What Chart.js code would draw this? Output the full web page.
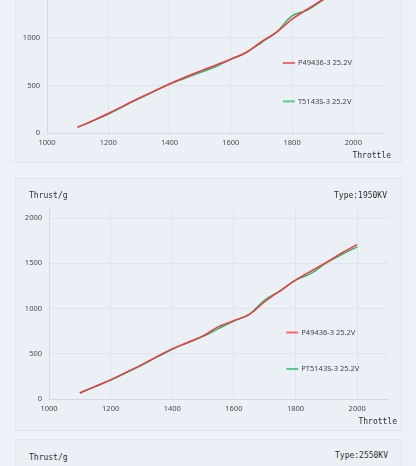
<!DOCTYPE html>
<html>
<head>
<meta charset="utf-8">
<script src="https://cdn.jsdelivr.net/npm/chart.js@4.4.1/dist/chart.umd.min.js"></script>
<style>
  html, body { margin: 0; padding: 0; }
  body { width: 416px; height: 466px; overflow: hidden; position: relative; background: #eef2f8; }
  .panel { position: absolute; left: 16px; width: 385px; background: #ebeff6; box-shadow: 0 0 0 1px #e1e6ee; }
  .panel canvas { position: absolute; left: 0; top: 0; }
  .hdr { position: absolute; font: 8px "DejaVu Sans Mono", monospace; color: #2f2f2f; line-height: 10px; }
</style>
</head>
<body>
<div class="panel" id="pA" style="top:-98px;height:260px;"><canvas id="chartA" width="385" height="260"></canvas></div>
<div class="panel" id="pB" style="top:179px;height:251px;"><canvas id="chartB" width="385" height="251"></canvas></div>
<div class="panel" id="pC" style="top:440px;height:251px;">
  <div class="hdr" style="left:13px;top:13px;">Thrust/g</div>
  <div class="hdr" style="right:13px;top:11px;">Type:2550KV</div>
</div>
<script>
// throttle steps shared by every curve
const throttle = [1100, 1150, 1200, 1250, 1300, 1350, 1400, 1450, 1500, 1550,
                  1600, 1650, 1700, 1750, 1800, 1850, 1900, 1950, 2000];
const xTicks = [1000, 1200, 1400, 1600, 1800, 2000];
const yTicks = [0, 500, 1000, 1500, 2000];

// upper panel (cut off at the top)
const upperRed   = [60, 130, 205, 285, 365, 440, 515, 585, 650, 712, 775, 845, 960, 1060, 1195, 1300, 1400, 1500, 1600];
const upperGreen = [60, 128, 200, 280, 362, 438, 515, 575, 635, 695, 775, 845, 950, 1062, 1230, 1290, 1395, 1495, 1590];

// 1950KV panel
const midRed   = [66, 140, 212, 295, 378, 468, 554, 625, 697, 800, 866, 936, 1075, 1196, 1314, 1413, 1509, 1615, 1707];
const midGreen = [66, 138, 208, 290, 372, 462, 550, 622, 692, 778, 862, 936, 1094, 1196, 1314, 1388, 1505, 1597, 1681];

const RED = '#ee3a43', GREEN = '#32b265';

const panelText = {
  id: 'panelText',
  afterDraw(chart, args, opts) {
    const { ctx, chartArea: a } = chart;
    ctx.save();
    // axis name and header
    ctx.fillStyle = '#2f2f2f';
    ctx.font = '8px "DejaVu Sans Mono", monospace';
    ctx.textBaseline = 'middle';
    ctx.textAlign = 'right';
    ctx.fillText('Throttle', a.right + opts.xTitleDx, a.bottom + 23);
    if (opts.type) {
      ctx.fillText(opts.type, a.right - 1, 17);
      ctx.textAlign = 'left';
      ctx.fillText('Thrust/g', 13, 17);
    }
    // legend inside the plot
    const lx = a.left + a.width * 0.70;
    const rows = [0.35, 0.158];
    ctx.font = '7.5px "Noto Sans", sans-serif';
    ctx.textAlign = 'left';
    chart.data.datasets.forEach((ds, i) => {
      const ly = a.bottom - a.height * rows[i];
      ctx.strokeStyle = ds.legendColor;
      ctx.lineWidth = 2;
      ctx.beginPath();
      ctx.moveTo(lx, ly);
      ctx.lineTo(lx + 12, ly);
      ctx.stroke();
      ctx.fillStyle = '#444';
      ctx.fillText(ds.label, lx + 15, ly);
    });
    ctx.restore();
  }
};

function makeChart(id, red, green, names, lay) {
  const pts = arr => throttle.map((x, i) => ({ x: x, y: arr[i] }));
  const tickFont = { family: 'Noto Sans', size: 7.5 };
  return new Chart(document.getElementById(id), {
    type: 'line',
    data: {
      datasets: [
        { label: names[0], data: pts(red), borderColor: RED, legendColor: '#f06a70' },
        { label: names[1], data: pts(green), borderColor: GREEN, legendColor: '#5ccd8f' }
      ]
    },
    options: {
      responsive: false,
      animation: false,
      events: [],
      layout: { padding: { left: 0, right: lay.right, top: lay.top, bottom: 0 } },
      elements: {
        line: { borderWidth: 1.5, tension: 0.4, fill: false },
        point: { radius: 0 }
      },
      plugins: {
        legend: { display: false },
        tooltip: { enabled: false },
        panelText: { type: lay.type, xTitleDx: lay.xTitleDx }
      },
      scales: {
        x: {
          type: 'linear', min: 1000, max: 2100,
          afterBuildTicks: s => { s.ticks = xTicks.map(v => ({ value: v })); },
          afterFit: s => { s.height = lay.xh; },
          grid: { color: '#dfe4ec', drawTicks: false },
          border: { color: '#d3d9e2' },
          ticks: { padding: 5, color: '#4a4a4a', font: tickFont, maxRotation: 0, callback: v => String(v) }
        },
        y: {
          min: 0, max: 2100,
          afterBuildTicks: s => { s.ticks = yTicks.map(v => ({ value: v })); },
          afterFit: s => { s.width = lay.yw; },
          grid: { color: '#dfe4ec', drawTicks: false },
          border: { color: '#d3d9e2' },
          ticks: { padding: 7, color: '#4a4a4a', font: tickFont, callback: v => String(v) }
        }
      }
    },
    plugins: [panelText]
  });
}

makeChart('chartA', upperRed, upperGreen, ['P49436-3 25.2V', 'T5143S-3 25.2V'],
  { right: 17, top: 31, xh: 29, yw: 31, xTitleDx: 7, type: null });
makeChart('chartB', midRed, midGreen, ['P49436-3 25.2V', 'PT5143S-3 25.2V'],
  { right: 13, top: 30, xh: 31, yw: 33, xTitleDx: 9, type: 'Type:1950KV' });
</script>
</body>
</html>
